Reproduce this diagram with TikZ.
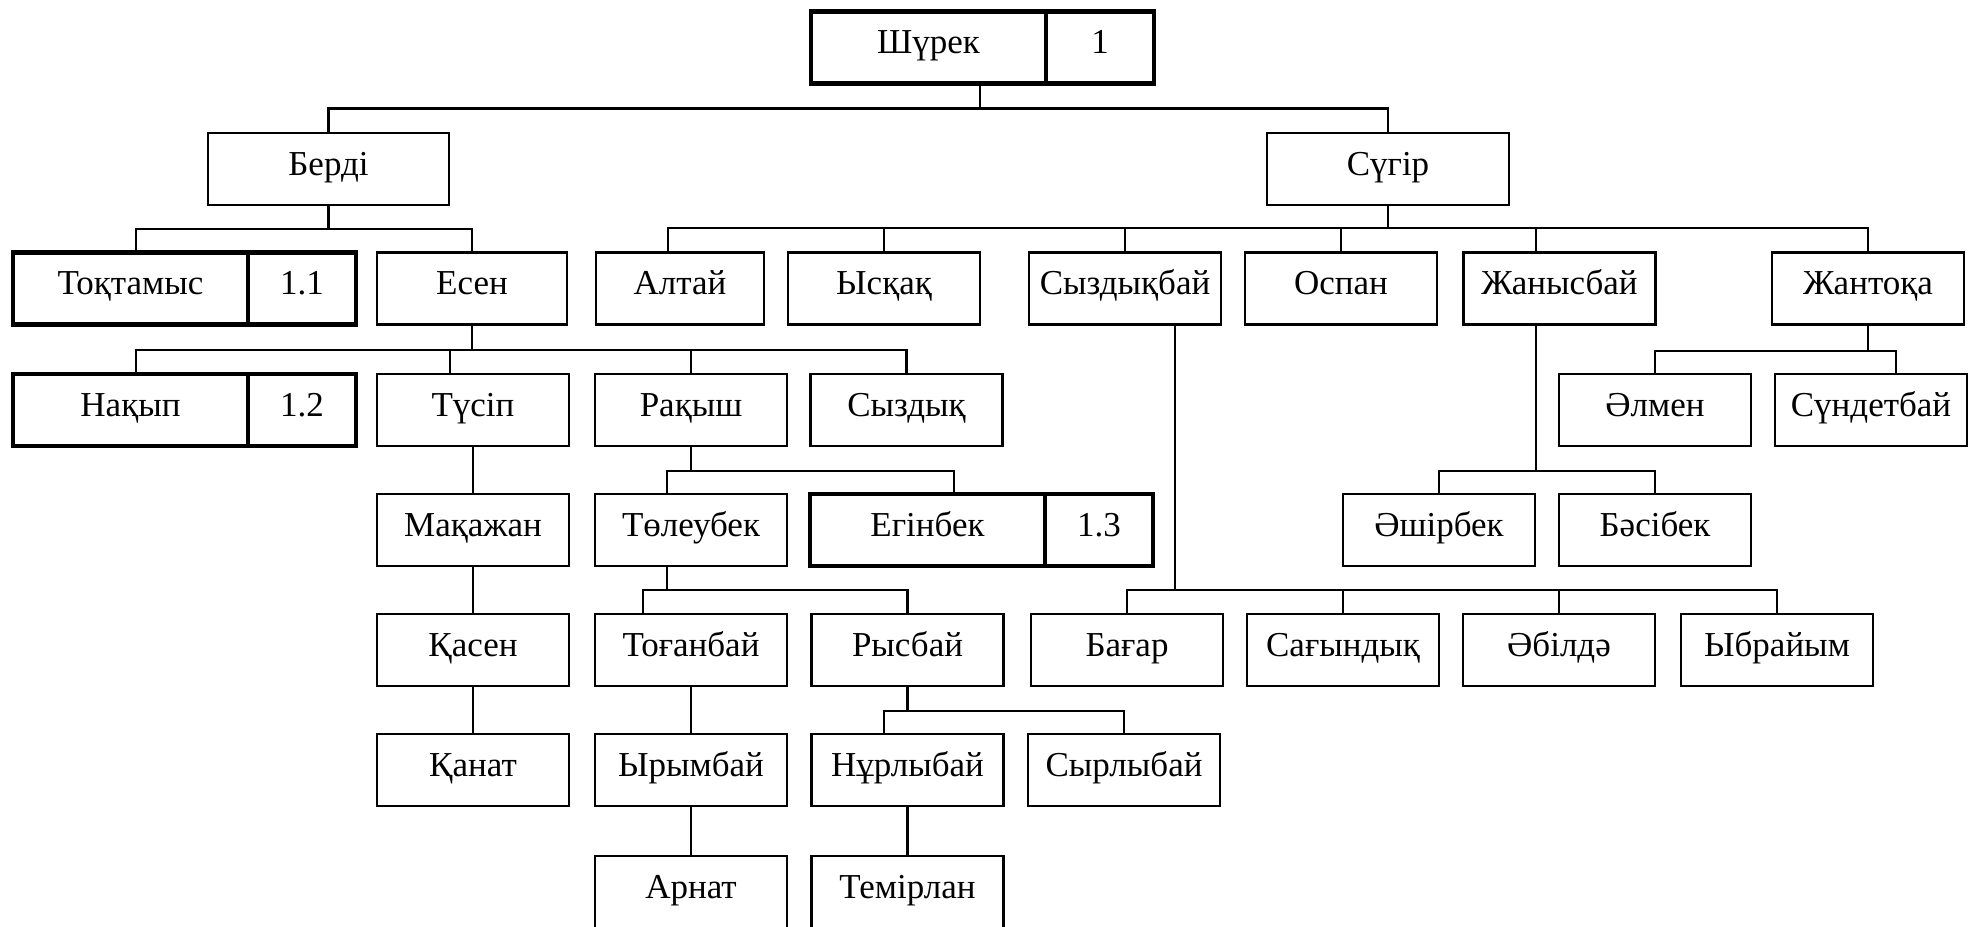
\documentclass[tikz,border=0pt]{standalone}
\usepackage{fontspec}
\setmainfont{Liberation Serif}
\usetikzlibrary{positioning}
\begin{document}
\begin{tikzpicture}[x=0.5pt, y=-0.5pt,
	box/.style={draw, line width=1.05pt, minimum width=96pt, minimum height=36pt,
		inner sep=0pt, outer sep=0pt, text height=0.62em, text depth=0.02em,
		font=\fontsize{17.5}{20}\selectfont},
	namebox/.style={box, line width=2.3pt, minimum width=117.5pt},
	numbox/.style={box, line width=2.3pt, minimum width=54pt},
	link/.style={line width=1.05pt}]
				% Khung trang
				\useasboundingbox (0,0) rectangle (1968,926);
				
				% Hang 0 va 1
				\node[namebox] (shurek) at (928.5,47.5) {Шүрек};
				\node[numbox, right=0pt of shurek] (shurek1) {1};
				\node[box, minimum width=120.5pt] (berdi) at (328.5,169) {Берді};
				\node[box, minimum width=121pt] (sugir) at (1388,169) {Сүгір};
				
				% Hang 2
				\node[namebox] (tokt) at (130.5,288.5) {Тоқтамыс};
				\node[numbox, right=0pt of tokt] (tokt1) {1.1};
				\node[box, minimum width=95pt] (esen) at (472,288.5) {Есен};
				\node[box, minimum width=84pt] (altai) at (680,288.5) {Алтай};
				\node[box] (yskak) at (884,288.5) {Ысқақ};
				\node[box] (syzdykbai) at (1125,288.5) {Сыздықбай};
				\node[box] (ospan) at (1341,288.5) {Оспан};
				\node[box] (zhanysbai) at (1559.5,288.5) {Жанысбай};
				\node[box] (zhantoka) at (1868,288.5) {Жантоқа};
				
				% Hang 3
				\node[namebox] (nakyp) at (130.5,410) {Нақып};
				\node[numbox, right=0pt of nakyp] (nakyp1) {1.2};
				\node[box] (tusip) at (473,410) {Түсіп};
				\node[box] (rakysh) at (691,410) {Рақыш};
				\node[box] (syzdyk) at (906.5,410) {Сыздық};
				\node[box] (almen) at (1655,410) {Әлмен};
				\node[box] (sundetbai) at (1871,410) {Сүндетбай};
				
				% Hang 4
				\node[box] (makazhan) at (473,530) {Мақажан};
				\node[box] (toleubek) at (691,530) {Төлеубек};
				\node[namebox] (egin) at (927.5,530) {Егінбек};
				\node[numbox, right=0pt of egin] (egin1) {1.3};
				\node[box] (ashirbek) at (1439,530) {Әшірбек};
				\node[box] (basibek) at (1655,530) {Бәсібек};
				
				% Hang 5
				\node[box] (kasen) at (473,650) {Қасен};
				\node[box] (toganbai) at (691,650) {Тоғанбай};
				\node[box] (rysbai) at (907.5,650) {Рысбай};
				\node[box] (bagar) at (1127,650) {Бағар};
				\node[box] (sagyndyk) at (1343,650) {Сағындық};
				\node[box] (abilde) at (1559,650) {Әбілдә};
				\node[box] (ybraiym) at (1777,650) {Ыбрайым};
				
				% Hang 6 va 7
				\node[box] (kanat) at (473,770) {Қанат};
				\node[box] (yrymbai) at (691,770) {Ырымбай};
				\node[box] (nurlybai) at (907.5,770) {Нұрлыбай};
				\node[box] (syrlybai) at (1124,770) {Сырлыбай};
				\node[box] (arnat) at (691,892) {Арнат};
				\node[box] (temirlan) at (907.5,892) {Темірлан};
				
				% Noi Шүрек
				\draw[link] ([xshift=25.75pt]shurek.south) -- ++(0,25) -| (berdi.north);
				\draw[link] ([xshift=25.75pt]shurek.south) -- ++(0,25) -| (sugir.north);
				
				% Noi Берді, Есен
				\draw[link] (berdi.south) -- ++(0,24) -| ([xshift=2.75pt]tokt.north);
				\draw[link] (berdi.south) -- ++(0,24) -| (esen.north);
				\draw[link] (esen.south) -- ++(0,25.5) -| ([xshift=2.75pt]nakyp.north);
				\draw[link] (esen.south) -- ++(0,25.5) -| ([xshift=-11.5pt]tusip.north);
				\draw[link] (esen.south) -- ++(0,25.5) -| (rakysh.north);
				\draw[link] (esen.south) -- ++(0,25.5) -| (syzdyk.north);
				
				% Nhanh Түсіп
				\draw[link] (tusip.south) -- (makazhan.north);
				\draw[link] (makazhan.south) -- (kasen.north);
				\draw[link] (kasen.south) -- (kanat.north);
				
				% Nhanh Рақыш
				\draw[link] (rakysh.south) -- ++(0,25) -| ([xshift=-12pt]toleubek.north);
				\draw[link] (rakysh.south) -- ++(0,25) -| ([xshift=13.25pt]egin.north);
				\draw[link] ([xshift=-12pt]toleubek.south) -- ++(0,24) -| ([xshift=-24pt]toganbai.north);
				\draw[link] ([xshift=-12pt]toleubek.south) -- ++(0,24) -| (rysbai.north);
				\draw[link] (toganbai.south) -- (yrymbai.north);
				\draw[link] (yrymbai.south) -- (arnat.north);
				\draw[link] (rysbai.south) -- ++(0,25) -| ([xshift=-11.75pt]nurlybai.north);
				\draw[link] (rysbai.south) -- ++(0,25) -| (syrlybai.north);
				\draw[link] (nurlybai.south) -- (temirlan.north);
				
				% Noi Сүгір
				\draw[link] (sugir.south) -- ++(0,23) -| ([xshift=-6pt]altai.north);
				\draw[link] (sugir.south) -- ++(0,23) -| (yskak.north);
				\draw[link] (sugir.south) -- ++(0,23) -| (syzdykbai.north);
				\draw[link] (sugir.south) -- ++(0,23) -| (ospan.north);
				\draw[link] (sugir.south) -- ++(0,23) -| ([xshift=-11.75pt]zhanysbai.north);
				\draw[link] (sugir.south) -- ++(0,23) -| (zhantoka.north);
				
				% Nhanh Сыздықбай
				\draw[link] ([xshift=25pt]syzdykbai.south) -- ++(0,265.5) -| (bagar.north);
				\draw[link] ([xshift=25pt]syzdykbai.south) -- ++(0,265.5) -| (sagyndyk.north);
				\draw[link] ([xshift=25pt]syzdykbai.south) -- ++(0,265.5) -| (abilde.north);
				\draw[link] ([xshift=25pt]syzdykbai.south) -- ++(0,265.5) -| (ybraiym.north);
				
				% Nhanh Жанысбай, Жантоқа
				\draw[link] ([xshift=-11.75pt]zhanysbai.south) -- ++(0,146.5) -| (ashirbek.north);
				\draw[link] ([xshift=-11.75pt]zhanysbai.south) -- ++(0,146.5) -| (basibek.north);
				\draw[link] (zhantoka.south) -- ++(0,26.5) -| (almen.north);
				\draw[link] (zhantoka.south) -- ++(0,26.5) -| ([xshift=12.5pt]sundetbai.north);
\end{tikzpicture}
\end{document}
